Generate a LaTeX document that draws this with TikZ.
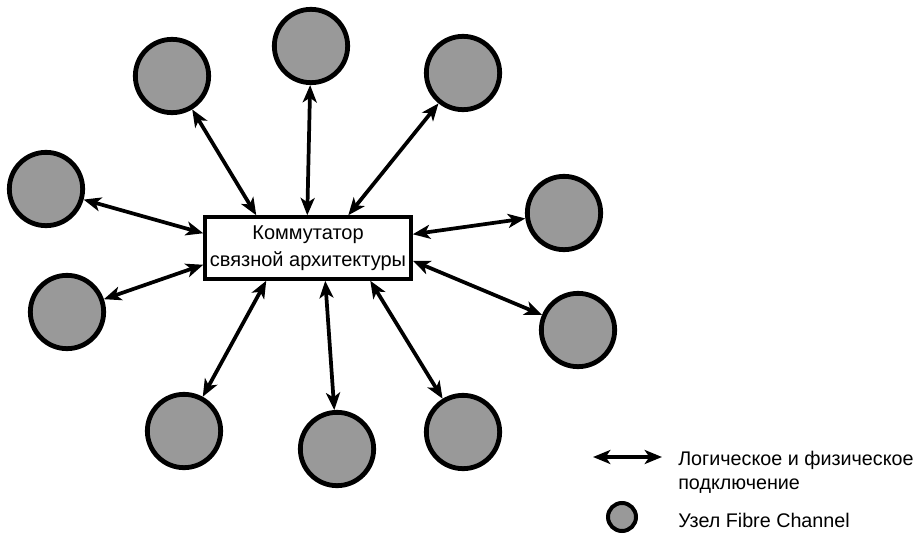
\documentclass[tikz,border=0pt]{standalone}
\usepackage{fontspec}
\setmainfont{Liberation Sans}
\usetikzlibrary{arrows.meta}
\begin{document}
\begin{tikzpicture}[x=0.75pt,y=-0.75pt,
  fcnode/.style={circle,draw=black,line width=3.6pt,fill=black!40,minimum size=55pt,inner sep=0pt},
  legnode/.style={circle,draw=black,line width=3pt,fill=black!40,minimum size=21pt,inner sep=0pt},
  switchbox/.style={draw=black,line width=2.6pt,fill=white,minimum width=154.5pt,minimum height=46.5pt,
    inner sep=0pt,align=center,font=\fontsize{15}{20}\selectfont},
  link/.style={line width=2.8pt,{Stealth[length=13pt,width=10.5pt,inset=3.5pt]}-{Stealth[length=13pt,width=10.5pt,inset=3.5pt]}},
  legtext/.style={anchor=base west,inner sep=0pt,font=\fontsize{14.8}{18}\selectfont}]
\useasboundingbox (0,0) rectangle (920,542);

% central switch
\node[switchbox] (sw) at (308,248) {Коммутатор\\связной архитектуры};

% Fibre Channel nodes around the switch
\node[fcnode] (n1)  at (172,76)  {};
\node[fcnode] (n2)  at (311,46)  {};
\node[fcnode] (n3)  at (463,73)  {};
\node[fcnode] (n4)  at (46,189)  {};
\node[fcnode] (n5)  at (564,213) {};
\node[fcnode] (n6)  at (67,312)  {};
\node[fcnode] (n7)  at (578,330) {};
\node[fcnode] (n8)  at (184,431) {};
\node[fcnode] (n9)  at (337,449) {};
\node[fcnode] (n10) at (463,432) {};

% links between the nodes and the switch
\draw[link] (n1)  -- ([shift={(53,0)}]sw.north west);
\draw[link] (n2)  -- ([shift={(104,0)}]sw.north west);
\draw[link] (n3)  -- ([shift={(145,0)}]sw.north west);
\draw[link] (n4)  -- ([shift={(0,18)}]sw.north west);
\draw[link] (n5)  -- ([shift={(0,19)}]sw.north east);
\draw[link] (n6)  -- ([shift={(0,-16)}]sw.south west);
\draw[link] (n7)  -- ([shift={(0,-20)}]sw.south east);
\draw[link] (n8)  -- ([shift={(63,0)}]sw.south west);
\draw[link] (n9)  -- ([shift={(122,0)}]sw.south west);
\draw[link] (n10) -- ([shift={(167,0)}]sw.south west);

% legend
\coordinate (la) at (593,457);
\coordinate (lb) at (662,457);
\draw[link] (la) -- (lb);
\node[legtext] (t1) at (678,465) {Логическое и физическое};
\node[legtext] (t2) at (678,489) {подключение};
\node[legnode] (ln) at (622,517) {};
\node[legtext] (t3) at (678,527) {Узел Fibre Channel};
\end{tikzpicture}
\end{document}
